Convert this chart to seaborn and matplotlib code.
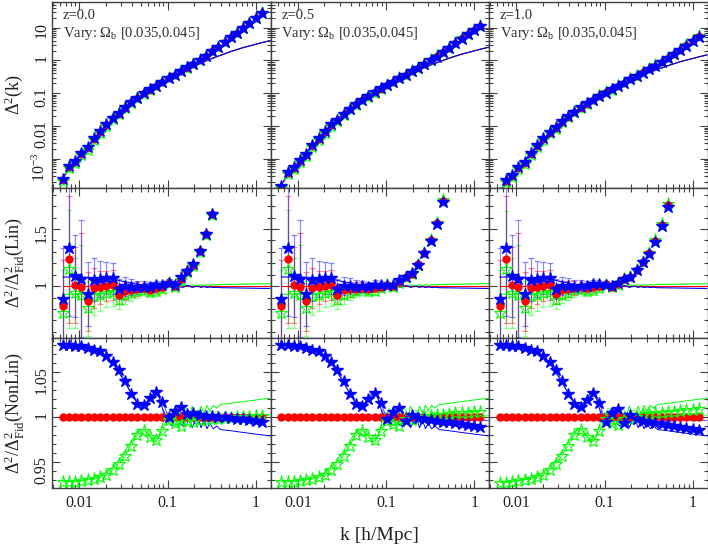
import matplotlib
matplotlib.use("Agg")
import matplotlib.pyplot as plt
import seaborn as sns
import pandas as pd
from matplotlib.ticker import FixedLocator, MultipleLocator, LogLocator, NullFormatter, FuncFormatter

sns.set_theme(style="ticks")
plt.rcParams['font.family'] = ['Liberation Serif', 'DejaVu Serif']
plt.rcParams['mathtext.fontset'] = 'custom'
plt.rcParams['mathtext.rm'] = 'Liberation Serif'
plt.rcParams['mathtext.it'] = 'Liberation Serif:italic'
plt.rcParams['mathtext.bf'] = 'Liberation Serif:bold'

# k bins of the measured spectra [h/Mpc]
K = [0.0065, 0.00765, 0.0090, 0.01058, 0.01245, 0.01464, 0.01722, 0.02025, 0.02382,
     0.02802, 0.03296, 0.03877, 0.0456, 0.05364, 0.0631, 0.07422, 0.0873, 0.1027,
     0.1208, 0.1421, 0.1671, 0.1966, 0.2312, 0.272, 0.3199, 0.3763, 0.4426, 0.5206,
     0.6124, 0.7204, 0.8472, 0.9966, 1.172]
K_LINE = K + [1.45]

# fiducial linear Delta^2 per redshift (on K_LINE)
LIN_Z0 = [2.7e-4, 4.7e-4, 8.1e-4, 1.41e-3, 2.4e-3, 4.0e-3, 6.6e-3, 1.07e-2, 1.70e-2,
          2.57e-2, 3.8e-2, 5.4e-2, 7.4e-2, 0.100, 0.132, 0.170, 0.219, 0.282, 0.355,
          0.437, 0.537, 0.661, 0.794, 0.955, 1.15, 1.35, 1.58, 1.86, 2.14, 2.45, 2.75,
          3.09, 3.47, 3.98]
LIN_Z05 = [1.7e-4, 3.0e-4, 5.1e-4, 8.9e-4, 1.51e-3, 2.5e-3, 4.2e-3, 6.7e-3, 1.07e-2,
           1.62e-2, 2.4e-2, 3.4e-2, 4.7e-2, 6.3e-2, 8.3e-2, 0.107, 0.138, 0.178, 0.224,
           0.275, 0.338, 0.417, 0.50, 0.60, 0.72, 0.85, 1.00, 1.17, 1.35, 1.55, 1.73,
           1.95, 2.19, 2.51]
LIN_Z1 = [1.0e-4, 1.74e-4, 3.0e-4, 5.2e-4, 8.9e-4, 1.48e-3, 2.44e-3, 3.96e-3, 6.3e-3,
          9.5e-3, 1.41e-2, 2.0e-2, 2.7e-2, 3.7e-2, 4.9e-2, 6.3e-2, 8.1e-2, 0.104, 0.131,
          0.162, 0.199, 0.245, 0.294, 0.353, 0.425, 0.50, 0.585, 0.69, 0.79, 0.91, 1.02,
          1.14, 1.28, 1.47]

# measured fiducial Delta^2 / fiducial linear (red points, middle row)
R_Z0 = [0.822, 1.237, 1.012, 0.988, 0.866, 0.982, 0.988, 1.003, 1.006, 0.924, 0.959,
        0.968, 0.974, 0.982, 0.968, 0.980, 0.990, 1.030, 1.000, 1.065, 1.130, 1.185,
        1.305, 1.455, 1.63, 1.95, 2.30, 2.75, 3.25, 4.00, 5.00, 6.20, 7.90]
R_Z05 = [0.822, 1.237, 1.012, 0.988, 0.866, 0.982, 0.988, 1.003, 1.006, 0.924, 0.962,
         0.972, 0.978, 0.986, 0.975, 0.986, 0.995, 1.010, 1.000, 1.040, 1.080, 1.110,
         1.190, 1.290, 1.400, 1.550, 1.750, 2.05, 2.45, 3.00, 3.60, 4.30, 5.20]
R_Z1 = [0.822, 1.237, 1.012, 0.988, 0.866, 0.982, 0.988, 1.003, 1.006, 0.930, 0.965,
        0.975, 0.982, 0.990, 0.980, 0.990, 1.000, 1.015, 0.996, 1.020, 1.066, 1.080,
        1.140, 1.213, 1.287, 1.395, 1.535, 1.71, 1.95, 2.30, 2.80, 3.40, 4.20]
SIGMA = [0.50, 0.45, 0.33, 0.48, 0.30, 0.18, 0.15, 0.13, 0.13, 0.09, 0.08, 0.07, 0.06,
         0.05, 0.045, 0.04, 0.035, 0.03, 0.025, 0.02, 0.016, 0.013, 0.011, 0.009, 0.008,
         0.007, 0.006, 0.005, 0.005, 0.004, 0.004, 0.003, 0.003]

# nonlinear ratios to fiducial (bottom row stars)
BLUE_Z0 = [1.080, 1.080, 1.079, 1.079, 1.077, 1.075, 1.073, 1.068, 1.061, 1.052, 1.040,
           1.026, 1.015, 1.013, 1.021, 1.028, 1.017, 1.000, 1.007, 1.011, 1.003, 1.004,
           1.002, 1.001, 1.001, 1.000, 1.000, 0.999, 0.998, 0.998, 0.997, 0.996, 0.995]
GREEN_Z0 = [0.928, 0.928, 0.928, 0.929, 0.930, 0.931, 0.933, 0.936, 0.941, 0.948, 0.957,
            0.968, 0.980, 0.985, 0.978, 0.974, 0.984, 0.997, 0.993, 0.990, 0.996, 0.995,
            0.997, 0.997, 0.998, 0.998, 0.999, 0.999, 1.000, 1.000, 1.000, 1.001, 1.001]
BLUE_Z05 = [1.080, 1.080, 1.079, 1.079, 1.077, 1.075, 1.073, 1.068, 1.061, 1.052, 1.040,
            1.026, 1.015, 1.012, 1.020, 1.027, 1.016, 0.998, 1.006, 1.010, 0.996, 1.002,
            0.999, 0.998, 0.997, 0.996, 0.995, 0.994, 0.993, 0.992, 0.991, 0.990, 0.989]
GREEN_Z05 = [0.928, 0.928, 0.928, 0.929, 0.930, 0.931, 0.933, 0.936, 0.941, 0.948, 0.957,
             0.968, 0.980, 0.985, 0.978, 0.974, 0.984, 0.996, 0.992, 0.990, 0.998, 0.997,
             0.999, 1.000, 1.001, 1.002, 1.002, 1.003, 1.004, 1.004, 1.005, 1.006, 1.006]
BLUE_Z1 = [1.080, 1.080, 1.079, 1.079, 1.077, 1.075, 1.073, 1.068, 1.061, 1.052, 1.040,
           1.026, 1.014, 1.011, 1.019, 1.027, 1.016, 0.995, 1.004, 1.009, 0.993, 1.002,
           0.998, 0.996, 0.995, 0.993, 0.992, 0.991, 0.990, 0.989, 0.988, 0.987, 0.986]
GREEN_Z1 = [0.927, 0.927, 0.928, 0.929, 0.930, 0.931, 0.933, 0.936, 0.941, 0.948, 0.957,
            0.968, 0.980, 0.986, 0.978, 0.973, 0.984, 0.998, 0.993, 0.991, 0.998, 0.998,
            1.000, 1.002, 1.003, 1.004, 1.005, 1.006, 1.006, 1.007, 1.008, 1.008, 1.009]
RED_NL = [1.0] * len(K)

# linear-theory ratio curves (variant / fiducial)
KR = [0.0065, 0.01, 0.015, 0.02, 0.025, 0.03, 0.035, 0.04, 0.045, 0.05, 0.055, 0.06,
      0.065, 0.07, 0.075, 0.08, 0.085, 0.09, 0.095, 0.10, 0.11, 0.12, 0.13, 0.14, 0.15,
      0.16, 0.17, 0.18, 0.19, 0.20, 0.22, 0.24, 0.26, 0.28, 0.30, 0.33, 0.36, 0.40, 0.5,
      0.7, 1.0, 1.45]
BLUE_LR = [1.080, 1.079, 1.075, 1.067, 1.057, 1.045, 1.034, 1.024, 1.016, 1.012, 1.013,
           1.018, 1.023, 1.027, 1.027, 1.022, 1.014, 1.005, 0.998, 0.995, 1.002, 1.010,
           1.004, 0.992, 0.990, 1.000, 1.006, 0.997, 0.988, 0.993, 1.000, 0.988, 0.996,
           0.987, 0.993, 0.987, 0.990, 0.986, 0.985, 0.983, 0.981, 0.979]
GREEN_LR = [0.928, 0.929, 0.932, 0.938, 0.946, 0.956, 0.966, 0.975, 0.982, 0.986, 0.986,
            0.982, 0.977, 0.973, 0.973, 0.978, 0.986, 0.995, 1.002, 1.005, 0.998, 0.990,
            0.996, 1.008, 1.010, 1.000, 0.994, 1.003, 1.012, 1.007, 1.000, 1.012, 1.004,
            1.013, 1.007, 1.013, 1.010, 1.014, 1.015, 1.017, 1.019, 1.021]
RED_LR = [1.0] * len(KR)

# second set of model ratio curves beyond k~0.09 (bottom row)
KW = [0.09, 0.095, 0.10, 0.11, 0.12, 0.13, 0.14, 0.15, 0.16, 0.17, 0.18, 0.19, 0.20,
      0.22, 0.24, 0.26, 0.28, 0.30, 0.33, 0.36, 0.40, 0.5, 0.7, 1.0, 1.45]
BLUE_W2 = [1.008, 1.002, 0.996, 0.990, 0.996, 1.008, 1.006, 0.995, 0.989, 0.995, 1.005,
           1.002, 0.993, 0.992, 1.001, 0.993, 0.996, 0.991, 0.995, 0.993, 0.995, 0.995,
           0.996, 0.996, 0.996]
GREEN_W2 = [0.990, 0.994, 1.000, 1.010, 1.004, 0.992, 0.993, 1.004, 1.011, 1.005, 0.995,
            0.997, 1.006, 1.008, 0.999, 1.006, 1.003, 1.007, 1.004, 1.006, 1.004, 1.003,
            1.002, 1.002, 1.002]

ZLABELS = ["z=0.0", "z=0.5", "z=1.0"]
COLUMNS = [
    (LIN_Z0, R_Z0, BLUE_Z0, GREEN_Z0),
    (LIN_Z05, R_Z05, BLUE_Z05, GREEN_Z05),
    (LIN_Z1, R_Z1, BLUE_Z1, GREEN_Z1),
]

BLUE, RED, GREEN = "#0000ff", "#ff0000", "#00ff00"
FRAME = "#404040"


def style_axis(ax, show_x, show_y):
    ax.set_xscale("log")
    ax.set_xlim(0.0049, 1.47)
    ax.xaxis.set_major_locator(FixedLocator([0.01, 0.1, 1.0]))
    ax.xaxis.set_minor_locator(LogLocator(base=10, subs=range(2, 10), numticks=20))
    ax.xaxis.set_minor_formatter(NullFormatter())
    ax.xaxis.set_major_formatter(FuncFormatter(lambda v, p: "%g" % v))
    ax.tick_params(which="both", direction="in", top=True, right=True,
                   color=FRAME, width=0.8, labelsize=11.5, pad=5, labelcolor="#222222")
    ax.tick_params(which="major", length=6)
    ax.tick_params(which="minor", length=3)
    ax.tick_params(axis="y", labelrotation=90, pad=2)
    if not show_x:
        ax.tick_params(axis="x", labelbottom=False)
    if not show_y:
        ax.tick_params(axis="y", labelleft=False)
    for s in ax.spines.values():
        s.set_color(FRAME)
        s.set_linewidth(1.0)
    ax.grid(False)
    ax.set_facecolor("white")
    ax.set_xlabel("")
    ax.set_ylabel("")


def line(ax, x, y, color, lw=0.8, alpha=1.0):
    df = pd.DataFrame({"k": x, "v": y})
    sns.lineplot(data=df, x="k", y="v", ax=ax, color=color, lw=lw, alpha=alpha,
                 sort=False, estimator=None, legend=False)


fig = plt.figure(figsize=(7.08, 5.45), dpi=100)
FW, FH = 708.0, 545.0
LEFTS = [52, 270.5, 489]
WIDTH = 218.5
ROWS = [(2, 188), (188, 338), (338, 488)]

for c in range(3):
    lin, r, bl, gr = COLUMNS[c]
    x0 = LEFTS[c]
    axes = [fig.add_axes([x0 / FW, 1 - y1 / FH, WIDTH / FW, (y1 - y0) / FH]) for (y0, y1) in ROWS]
    ax_top, ax_mid, ax_bot = axes

    nl_red = [l * v for l, v in zip(lin, r)]
    nl_blue = [n * b for n, b in zip(nl_red, bl)]
    nl_green = [n * g for n, g in zip(nl_red, gr)]

    # top row: Delta^2(k)
    line(ax_top, K_LINE, lin, GREEN)
    line(ax_top, K_LINE, lin, RED)
    line(ax_top, K_LINE, lin, BLUE)
    ax_top.plot(K, nl_green, ls="none", marker="*", ms=9.5, mfc="none", mec=GREEN, mew=0.8)
    ax_top.plot(K, nl_red, ls="none", marker="o", ms=4.5, color=RED)
    ax_top.plot(K, nl_blue, ls="none", marker="*", ms=9, color=BLUE, mec=BLUE)
    ax_top.set_yscale("log")
    ax_top.set_ylim(1.3e-4, 60)
    ax_top.yaxis.set_major_locator(FixedLocator([1e-3, 1e-2, 0.1, 1, 10]))
    ax_top.yaxis.set_minor_locator(LogLocator(base=10, subs=range(2, 10), numticks=20))
    ax_top.yaxis.set_minor_formatter(NullFormatter())
    top_labels = {1e-3: r"$10^{-3}$", 1e-2: "0.01", 0.1: "0.1", 1: "1", 10: "10"}
    ax_top.yaxis.set_major_formatter(FuncFormatter(
        lambda v, p: next((t for key, t in top_labels.items() if abs(v / key - 1) < 1e-6), "")))
    style_axis(ax_top, False, c == 0)
    ax_top.text(0.05, 0.925, ZLABELS[c], transform=ax_top.transAxes, fontsize=10.5,
                va="center", ha="left", color="#303030")
    ax_top.text(0.05, 0.828, r"Vary: $\Omega_{\rm b}$ [0.035,0.045]", transform=ax_top.transAxes,
                fontsize=10.5, va="center", ha="left", color="#303030")

    # middle row: ratio to fiducial linear
    mid_red = r
    mid_blue = [a * b for a, b in zip(r, bl)]
    mid_green = [a * b for a, b in zip(r, gr)]
    for vals, col in [(mid_green, GREEN), (mid_red, RED), (mid_blue, BLUE)]:
        err = [v * s for v, s in zip(vals, SIGMA)]
        ax_mid.errorbar(K, vals, yerr=err, fmt="none", ecolor=col, elinewidth=0.9,
                        capsize=2, capthick=0.9, alpha=0.45)
    line(ax_mid, KR, GREEN_LR, GREEN)
    line(ax_mid, KR, RED_LR, RED)
    line(ax_mid, KR, BLUE_LR, BLUE)
    ax_mid.plot(K, mid_green, ls="none", marker="*", ms=9.5, mfc="none", mec=GREEN, mew=0.8)
    ax_mid.plot(K, mid_red, ls="none", marker="o", ms=5, color=RED)
    ax_mid.plot(K, mid_blue, ls="none", marker="*", ms=9, color=BLUE, mec=BLUE)
    ax_mid.set_ylim(0.545, 1.86)
    ax_mid.yaxis.set_major_locator(FixedLocator([1.0, 1.5]))
    ax_mid.yaxis.set_minor_locator(MultipleLocator(0.1))
    ax_mid.yaxis.set_major_formatter(FuncFormatter(lambda v, p: "%g" % v))
    style_axis(ax_mid, False, c == 0)

    # bottom row: ratio to fiducial nonlinear
    line(ax_bot, KR, GREEN_LR, GREEN, lw=0.7)
    line(ax_bot, KR, BLUE_LR, BLUE, lw=0.7)
    line(ax_bot, KW, GREEN_W2, GREEN, lw=0.6, alpha=0.8)
    line(ax_bot, KW, BLUE_W2, BLUE, lw=0.6, alpha=0.8)
    line(ax_bot, K, gr, GREEN, lw=0.6, alpha=0.8)
    line(ax_bot, K, bl, BLUE, lw=0.6, alpha=0.8)
    ax_bot.plot(K, RED_NL, ls="none", marker="o", ms=5, color=RED)
    ax_bot.plot(K, gr, ls="none", marker="*", ms=9.5, mfc="none", mec=GREEN, mew=0.8)
    ax_bot.plot(K, bl, ls="none", marker="*", ms=9, color=BLUE, mec=BLUE)
    ax_bot.set_ylim(0.921, 1.088)
    ax_bot.yaxis.set_major_locator(FixedLocator([0.95, 1.0, 1.05]))
    ax_bot.yaxis.set_minor_locator(MultipleLocator(0.01))
    ax_bot.yaxis.set_major_formatter(FuncFormatter(lambda v, p: "%g" % v))
    style_axis(ax_bot, True, c == 0)

# row labels, placed in figure pixels
YLABELS = [r"$\Delta^2(\mathrm{k})$",
           r"$\Delta^2/\Delta^2_{\mathrm{Fid}}(\mathrm{Lin})$",
           r"$\Delta^2/\Delta^2_{\mathrm{Fid}}(\mathrm{NonLin})$"]
for (y0, y1), lab in zip(ROWS, YLABELS):
    fig.text(14 / FW, 1 - (y0 + y1) / 2 / FH, lab, rotation=90, ha="center", va="center",
             fontsize=13, color="#222222")

fig.text(379.5 / FW, 1 - 535 / FH, "k [h/Mpc]", ha="center", va="center", fontsize=14,
         color="#222222")
fig.savefig("out.png", dpi=100, facecolor="white")
